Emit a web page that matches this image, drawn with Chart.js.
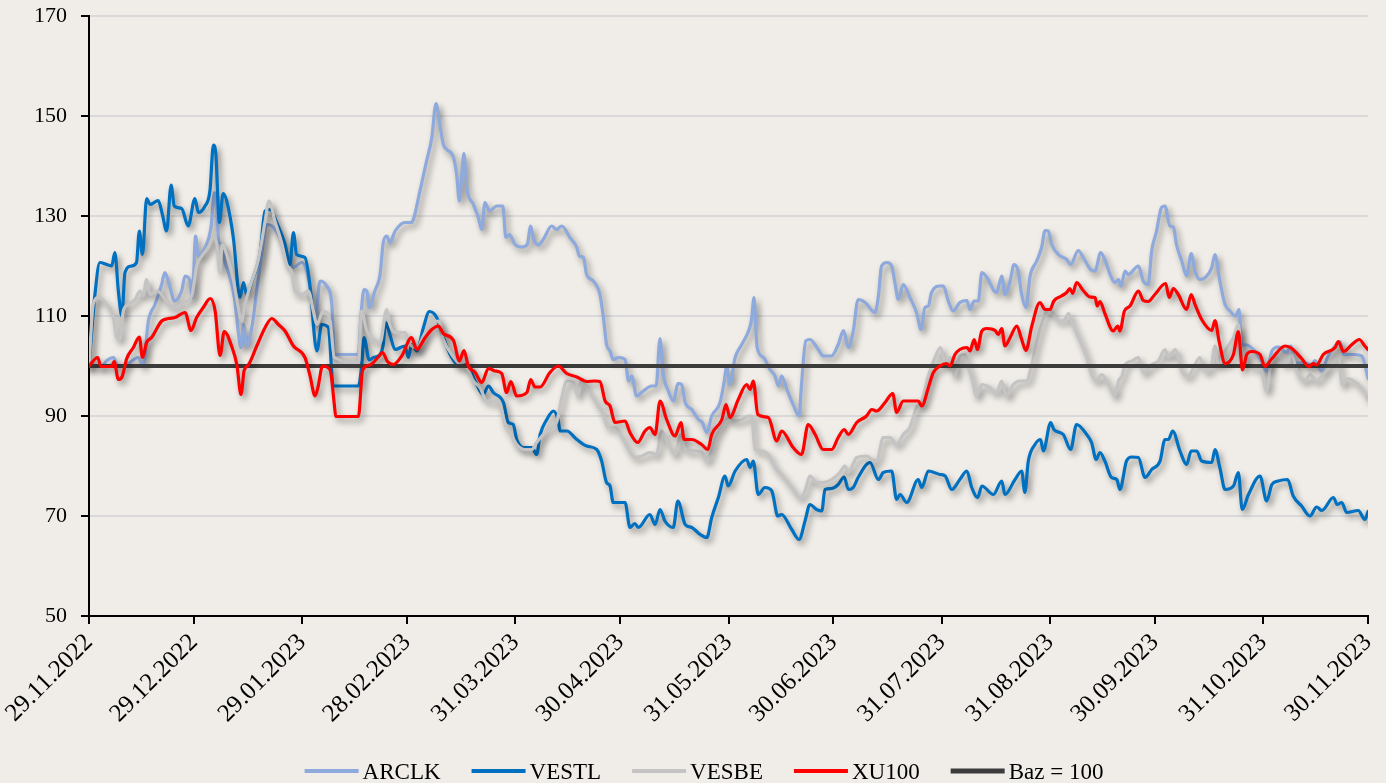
<!DOCTYPE html>
<html>
<head>
<meta charset="utf-8">
<script src="https://cdn.jsdelivr.net/npm/chart.js@4.4.1/dist/chart.umd.min.js"></script>
<style>
html,body{margin:0;padding:0;background:#F0EDE8;}
#wrap{width:1386px;height:783px;position:relative;}
</style>
</head>
<body>
<div id="wrap"><canvas id="c"></canvas></div>
<script>
// ---------- DATA ----------
const seriesNames = ['ARCLK', 'VESTL', 'VESBE', 'XU100', 'Baz = 100'];
// x = days since 29.11.2022
const tickDays   = [0, 30, 61, 91, 122, 152, 183, 213, 244, 275, 305, 336, 366];
const tickLabels = ['29.11.2022','29.12.2022','29.01.2023','28.02.2023','31.03.2023','30.04.2023',
                    '31.05.2023','30.06.2023','31.07.2023','31.08.2023','30.09.2023','31.10.2023','30.11.2023'];
const yMin = 50, yMax = 170, yStep = 20;

const arclk = [[0,100],[1.7,99.9],[3.6,99.9],[5.1,101.1],[7.0,101.7],[8.4,99.9],[11.2,100.5],[14.1,101.7],[15.5,100],[17.0,109],
[18.9,112.3],[20.8,116.3],[21.7,118.7],[23.2,115.7],[24.4,113],[26.5,115],[27.5,118],[28.9,117],[29.6,113.7],[30.5,126],
[31.3,122],[33.2,123.7],[34.9,127.7],[35.9,134.7],[36.5,131.7],[37.2,124.7],[38.1,124.3],[38.7,121.3],[39.9,118.7],[41.6,113.7],
[42.7,107],[43.5,103.7],[44.2,108.3],[45.1,104],[46.6,107.7],[48.0,115],[49.4,122.3],[50.9,128.3],[52.3,128],[54.7,125.7],
[57.0,121.7],[58.5,119.7],[60.9,120.7],[62.3,119],[63.7,113.7],[64.7,108.3],[66.1,117],[68.0,116],[69.5,112.3],[70.2,102.3],
[77.1,102.3],[77.8,109.7],[78.7,115.3],[79.5,115],[80.2,111.7],[81.8,115],[83.3,118.3],[84.2,124.7],[85.2,126],[86.1,124.7],
[87.6,127],[90.4,128.7],[92.3,128.7],[93.0,129.7],[94.7,135],[96.6,141],[98.1,145.7],[99.3,152.5],[100.4,148.3],[101.4,144.3],
[102.4,143.3],[104.3,141.7],[105.2,138.3],[106.0,133],[106.7,138.3],[107.3,142.5],[108.1,135.7],[110.0,132.3],[111.4,129.7],[112.4,127.3],
[113.3,132.7],[114.6,131],[116.7,132],[118.4,132],[119.3,125.7],[120.3,126.3],[121.9,124.3],[123.8,123.8],[125.4,124.3],[126.4,128],
[127.1,125.7],[128.6,124.2],[130.0,125.3],[132.4,128],[133.8,127.3],[135.3,128],[137.6,125.7],[139.6,123.7],[140.3,122],[141.5,121.7],
[142.4,118.3],[144.3,117],[146.2,114.3],[147.2,109.7],[148.1,104.3],[149.1,103],[150.0,101.3],[151.5,101.7],[153.4,101.3],[154.4,97],
[155.3,98],[156.7,94],[158.6,95],[161.0,96],[162.3,96],[163.4,105.5],[164.3,98.5],[165.8,95],[167.2,93],[168.6,96.5],
[169.6,96.3],[170.6,92.7],[172.5,91.3],[174.4,89.3],[175.5,88.7],[176.8,86.7],[178.2,90],[180.6,92.7],[181.8,97],[182.5,100],
[183.4,96.3],[184.9,101.7],[186.8,104.3],[188.9,107.3],[189.6,109.3],[190.3,113.7],[191.2,103.7],[193.0,101.7],[194.9,99.3],[196.3,98],
[197.3,96],[198.2,98],[199.7,95.3],[201.5,92.3],[203.2,90],[203.9,96.3],[205.1,105],[206.3,105.3],[208.7,103.3],[210.1,102],
[212.5,102],[214.4,104.3],[215.9,107.1],[217.3,103.7],[218.7,107],[220.1,113.3],[222.1,112.7],[224.9,110.7],[225.9,114],[226.8,120],
[228.3,120.7],[229.7,120],[230.7,116.3],[231.6,113.3],[233.0,116.3],[234.9,113.7],[236.8,110.7],[238.1,107.3],[239.2,111.7],[240.2,112],
[241.1,114.7],[243.5,116],[244.5,116],[245.9,113],[247.3,111],[249.2,112.7],[251.2,113.1],[252.1,111.3],[253.3,113],[254.5,113],
[255.5,118.7],[257.3,117.3],[259.0,115],[259.7,114.7],[261.2,118],[262.1,114.3],[263.6,117],[264.7,120.3],[265.9,119],[266.9,114.3],
[268.1,111.7],[269.3,118],[271.2,121],[272.6,123.7],[273.6,127.1],[274.5,127],[275.5,124.3],[277.4,122.3],[279.8,121.3],[280.9,120.3],
[283.1,123.1],[284.5,121.7],[286.6,119.3],[287.9,119],[289.5,122.7],[291.0,120.7],[292.2,118.3],[293.6,116.7],[294.6,117.3],[295.3,116],
[296.5,119],[297.4,118.3],[300.3,120],[301.7,117],[303.1,116.3],[304.1,123],[305.5,127],[306.9,131.7],[307.9,132],[309.3,128],
[310.3,127.8],[311.2,124.3],[312.7,121],[314.1,118],[315.4,122.5],[316.5,119],[317.9,117.3],[319.4,117.7],[321.3,119.7],[322.2,122.3],
[323.6,117],[325.1,112.3],[326.5,111],[328.1,110],[329.1,111.3],[329.8,104.3],[331.3,104.2],[333.6,103],[335.5,101],[337.0,99],
[338.5,103],[340.3,103.8],[342.7,102.7],[343.9,104],[345.1,100.5],[347.0,100.7],[349.9,100.3],[350.8,101.1],[352.7,99],[354.6,102],
[356.6,104],[358.0,104.9],[359.0,102.3],[361.8,102.3],[364.2,102],[365.1,100.3],[366,97.5]];

const vestl = [[0,100],[1.7,114.3],[3.1,120.7],[5.1,120.3],[6.5,120],[7.4,122.7],[8.4,115],[9.4,110],[10.3,118.7],[12.2,120],
[13.6,120.7],[14.4,127],[15.3,122.3],[16.5,133.5],[17.5,132.3],[19.8,133.1],[21.0,130.3],[22.2,127],[23.5,136.2],[24.4,132],
[26.5,131.5],[28.4,128],[30.3,133.5],[31.3,130.7],[33.2,132],[34.6,135],[35.6,144.2],[36.3,142.3],[37.3,128.7],[38.4,134.5],
[39.4,133],[41.3,125.7],[43.2,113.7],[44.2,116.7],[45.1,114.3],[47.0,117.7],[48.9,122.3],[50.4,131],[51.8,131.3],[53.7,128.7],
[56.1,124.3],[57.5,120.3],[58.5,126.7],[59.4,122.3],[61.8,121.7],[63.2,116.3],[65.2,103],[66.6,108.3],[68.5,107.7],[69.9,96],
[77.1,96],[78.0,99.9],[78.7,105.7],[80.2,101.2],[81.4,101.7],[83.3,102.3],[84.2,104.3],[84.9,108.7],[86.1,106.3],[87.6,103.3],
[90.4,104],[91.4,101.7],[92.3,104.3],[93.8,103],[95.7,107.7],[97.4,110.9],[99.5,109.7],[101.4,105.7],[103.8,101.7],[106.2,99.9],
[108.1,100.3],[110.5,97],[112.8,94.3],[114.3,96],[115.7,94.7],[118.6,92.7],[120.0,88.7],[121.4,88.3],[122.4,85.3],[124.3,83.7],
[126.7,83.7],[128.1,82.3],[129.1,86.3],[131.0,89.3],[132.9,91],[134.3,89],[134.8,87],[136.7,87],[139.6,85.3],[142.4,84],
[145.3,83.3],[146.7,81],[148.1,76.7],[149.1,76],[150.0,72.7],[153.4,72.7],[154.8,67.7],[156.2,68.5],[157.2,67.7],[160.5,70.3],
[162.0,68.3],[163.4,71.3],[164.8,69],[167.2,67.7],[168.5,73],[170.6,68.3],[172.5,67.7],[174.9,66.3],[176.8,65.7],[178.2,69.7],
[180.1,73.7],[182.0,78],[182.9,76],[184.9,79],[188.2,81.3],[189.2,79.7],[190.1,81],[191.5,74.3],[193.4,75.7],[195.4,75],
[197.1,70],[198.2,70.3],[201.1,67.3],[203.2,65.3],[204.9,69],[206.3,72.3],[208.2,71.3],[209.7,71],[210.6,75.3],[212.5,75.5],
[214.4,76.3],[216.1,77.8],[217.3,75.3],[218.7,75.7],[220.1,77.7],[223.5,80.7],[225.9,77.3],[227.3,78.7],[229.7,79],[231.1,73.3],
[232.1,74.3],[234.0,72.7],[237.3,77.3],[238.3,75.7],[240.2,79],[243.5,78.3],[245.0,78],[246.9,75.3],[249.2,77.3],[251.2,79],
[252.6,75.7],[254.3,73.7],[255.5,76],[258.8,74.3],[261.2,77],[262.1,74.3],[265.0,77.3],[266.9,79],[267.8,74.7],[268.8,81],
[270.7,84.3],[272.3,85.3],[273.1,83],[275.2,88.7],[276.1,87.3],[278.8,86.3],[280.9,83.3],[282.6,88.3],[285.5,86.3],[286.9,84.7],
[288.2,81.3],[289.3,82.7],[290.7,81],[292.6,77.7],[294.1,77.3],[295.0,75.3],[296.9,81],[298.4,81.8],[300.3,81.7],[302.2,77.7],
[304.1,79.3],[306.5,81],[307.9,85.3],[308.9,85.3],[310.1,87],[312.2,83],[314.1,80.3],[315.4,83],[317.0,83],[318.4,81],
[321.3,80.7],[322.2,83.3],[323.6,79.7],[325.1,75.3],[327.5,76],[328.9,78.7],[330.0,71.3],[331.8,74.3],[335.1,78],[337.0,73],
[338.5,76.3],[340.3,77],[343.0,77.3],[344.6,74],[347.0,72],[349.4,70],[351.3,71.8],[352.8,71.1],[356.1,73.7],[357.2,72.3],
[358.5,72.7],[359.9,70.7],[363.2,71.1],[365.1,69.3],[366,70.9]];

const vesbe = [[0,100],[1.2,112.3],[2.7,113.7],[5.1,112.3],[7.0,109.7],[7.9,105.7],[8.9,105.3],[9.8,111],[11.2,112.3],[13.2,113.3],
[14.6,115],[15.5,114],[16.5,117.3],[17.5,114.3],[19.4,115],[20.8,114.3],[22.7,112.3],[25.1,111.7],[27.0,112.7],[29.4,114],
[30.8,120],[32.3,122],[34.1,123.7],[35.6,125.7],[36.5,124.7],[37.5,118.7],[38.1,124.3],[39.4,122.3],[41.3,117.3],[42.7,111.7],
[43.7,109],[44.6,112.3],[46.6,117],[48.4,121],[50.4,129],[51.5,133],[53.2,129],[55.1,124.7],[56.6,120.3],[58.0,118.7],
[58.9,115],[60.9,114.3],[62.8,115],[64.2,111],[65.2,108.3],[67.0,111],[69.0,109],[70.2,101.7],[77.1,100.7],[78.0,111],
[79.5,107],[81.4,105.3],[83.3,104.7],[85.2,111.3],[86.1,108.3],[87.6,106.7],[90.4,106.7],[91.9,104.3],[93.8,103.7],[95.7,106],
[97.6,108.3],[100.0,109],[101.4,105.3],[103.8,102.3],[106.2,100.3],[108.1,99.7],[110.0,97],[111.9,95.7],[113.8,93],[115.7,93],
[117.6,92.3],[119.0,88.3],[120.5,86.7],[122.4,84.3],[124.8,83.3],[126.7,83.3],[128.1,84.7],[130.0,86.3],[132.4,87.7],[133.8,88.7],
[135.3,93.7],[136.7,97],[138.6,96.7],[140.0,94],[140.7,97],[142.4,95.7],[144.3,93.7],[145.7,92],[146.7,91],[148.6,87.7],
[150.5,87.7],[152.4,86],[154.4,83.3],[156.2,81.7],[158.2,82],[160.5,82.7],[162.4,82.3],[163.9,87],[165.8,84.3],[167.7,82.3],
[169.4,86.3],[170.6,83.3],[173.4,83],[175.3,82.7],[176.8,81],[179.2,85.7],[181.1,88.3],[183.0,89.7],[184.9,89],[186.8,89.3],
[188.7,90],[189.6,90],[190.6,83.3],[192.5,83],[194.4,82.3],[196.3,79.7],[198.2,78.3],[201.1,75.7],[203.5,73.7],[204.9,75],
[206.3,78],[208.2,76.7],[210.1,76.7],[212.5,77.3],[214.9,78.7],[216.3,80],[217.3,78.7],[219.7,81.7],[222.5,82],[224.0,81.3],
[225.4,81],[227.3,85.7],[229.2,85.7],[231.1,84.3],[233.0,86.3],[234.9,87.7],[236.8,91.7],[238.3,93],[240.2,98],[242.1,101.7],
[243.7,103.7],[245.0,100.3],[246.4,101.7],[247.8,98],[249.2,102],[250.7,102.3],[251.6,99.7],[252.6,97.7],[254.0,94],[255.5,96.3],
[257.8,95.7],[259.7,94.7],[261.2,97],[262.6,94],[264.5,96.3],[266.4,97],[268.3,97],[269.8,100.3],[271.2,104.7],[272.6,108.3],
[274.1,111],[275.0,111.3],[276.9,109.3],[278.8,109],[280.3,110.5],[281.5,108.3],[283.6,105],[285.5,101.7],[286.9,98.3],[288.4,97],
[289.8,98.3],[292.2,95.7],[293.6,94],[294.6,97],[295.6,98],[296.5,100.3],[298.4,101],[300.3,101.7],[301.7,98.7],[304.1,100.3],
[306.0,101],[307.9,103.3],[308.9,101.7],[310.8,103.3],[312.7,99],[314.6,98],[316.5,100.3],[317.9,101.7],[319.4,99],[321.1,99.7],
[322.2,104],[323.2,100],[324.6,102.3],[326.0,104],[327.5,105.7],[328.9,108.3],[329.8,103],[331.3,101.7],[333.2,99.7],[335.1,99.7],
[337.0,95],[338.5,101.7],[340.3,102.3],[342.3,100.3],[344.2,102.3],[345.6,99],[348.0,97],[349.4,98.3],[351.3,97],[353.2,98.3],
[355.6,100.3],[357.5,102.3],[358.6,96.3],[360.3,97.5],[363.2,96.3],[365.1,94.7],[366,93.3]];

const xu100 = [[0,100],[2.5,101.7],[3.4,99.9],[6.5,99.9],[7.2,100.9],[8.4,97.3],[9.5,97.9],[10.8,101.5],[12.7,103.7],[14.4,105.8],
[15.3,101.7],[16.5,104.7],[17.9,105.7],[20.8,109],[22.7,109.5],[24.6,109.7],[27.5,110.7],[29.2,107.1],[30.8,109.7],[32.7,111.7],
[34.7,113.5],[36.1,111],[37.5,102.1],[38.7,106.9],[40.8,104],[42.3,100.3],[43.5,94.3],[44.4,99.1],[45.6,100.2],[48.0,104],
[50.4,107.7],[52.3,109.5],[54.2,108.3],[56.1,107],[58.5,104],[61.8,101.7],[63.2,98.2],[64.7,94],[65.6,96],[66.8,100],
[69.0,99.2],[70.2,92.3],[70.6,89.9],[77.1,89.9],[78.3,99.2],[80.4,100.2],[82.8,101.8],[84.0,102.7],[85.4,100.9],[87.1,100.3],
[89.5,102],[92.3,105.7],[93.8,103.3],[96.2,105.7],[97.8,107.1],[100.0,108],[101.4,106.5],[104.3,105.1],[106.0,101],[107.3,103.1],
[108.5,100.1],[110.5,98.7],[112.4,96.7],[114.3,99.5],[116.2,99],[118.1,98.5],[119.5,94.7],[120.7,96.9],[122.4,94],[125.3,94.7],
[126.4,97.3],[127.6,95.8],[129.1,95.8],[131.9,98.7],[134.3,100],[136.7,98.5],[139.6,97.8],[142.4,96.9],[144.8,97],[146.2,96.9],
[147.7,93],[149.1,92],[150.5,88.7],[153.4,89],[154.8,86.7],[157.0,84.7],[159.1,87],[160.5,87.7],[162.0,86.3],[163.4,93],
[165.3,89.3],[167.7,86],[169.4,88.7],[170.3,85.3],[172.5,85.3],[175.3,84.3],[177.1,83.3],[178.2,86.3],[181.1,89.3],[182.3,92.3],
[183.4,89.7],[185.8,93.3],[188.2,96.3],[189.2,95.3],[190.1,97],[191.4,90.3],[194.4,89.7],[196.8,85],[198.2,87],[201.5,83.7],
[203.9,82.3],[205.8,88.3],[207.8,86.3],[210.1,83.3],[212.5,83.3],[214.4,85.7],[216.1,87.3],[217.3,86.3],[219.7,88.7],[222.5,90],
[224.0,91.3],[225.4,91],[227.8,92.7],[230.0,94.5],[231.1,90.7],[233.0,93],[237.3,93],[238.3,92],[240.2,95.7],[241.6,98.7],
[243.5,100],[245.4,100.5],[246.4,100],[247.8,102.3],[249.2,103.3],[251.3,103.7],[252.1,103],[253.3,105.3],[254.2,103.3],[255.5,107],
[256.9,107.5],[259.3,107.1],[260.2,106.3],[261.2,107.5],[262.1,104],[263.6,105.7],[265.5,108],[266.9,105.3],[268.1,103.1],[269.8,108],
[272.1,112.7],[273.6,111.3],[275.0,111.3],[276.1,113],[278.3,114],[279.8,114.7],[280.7,115.5],[281.5,114.5],[282.6,116.7],[284.5,115.1],
[286.5,113.8],[287.9,113.7],[288.5,112],[289.3,112.9],[290.7,110.5],[293.1,107],[294.4,108],[295.0,107],[296.3,111],[297.9,112],
[300.3,115],[301.7,113.1],[303.1,112.9],[305.0,114.3],[308.1,116.5],[309.1,113.7],[310.3,115.5],[311.7,114.3],[314.1,111.3],[315.4,114.3],
[316.5,112.3],[318.4,109.3],[321.3,107.1],[322.2,109.1],[323.4,104.9],[325.1,100.5],[327.5,102.3],[328.9,106.9],[330.1,99.2],[331.3,102.3],
[332.7,102.9],[335.1,102.3],[336.5,99.9],[338.5,101.5],[342.3,104],[344.2,103.5],[347.0,101.5],[349.1,99.9],[350.4,100.5],[351.3,100.2],
[353.2,102.3],[356.6,103.7],[357.5,104.9],[359.0,102.9],[361.4,104.3],[363.5,105.3],[365.1,104],[366,103.3]];

const baz = [[0,100],[366,100]];

// ---------- STYLE ----------
const FONT = "'Liberation Serif', 'Times New Roman', serif";
const BG = '#F0EDE8';
const toXY = arr => arr.map(p => ({x: p[0], y: p[1]}));

const common = {pointRadius: 0, pointHoverRadius: 0, fill: false, cubicInterpolationMode: 'monotone', borderJoinStyle: 'round', borderCapStyle: 'round'};
const datasets = [
  Object.assign({label: seriesNames[0], data: toXY(arclk), borderColor: '#8EA9DB', borderWidth: 3.2, order: 5}, common),
  Object.assign({label: seriesNames[1], data: toXY(vestl), borderColor: '#0070C0', borderWidth: 3.2, order: 4}, common),
  Object.assign({label: seriesNames[2], data: toXY(vesbe), borderColor: '#C4C4C4', borderWidth: 3.2, order: 3}, common),
  Object.assign({label: seriesNames[3], data: toXY(xu100), borderColor: '#FF0000', borderWidth: 3.2, order: 1}, common),
  Object.assign({label: seriesNames[4], data: toXY(baz), borderColor: '#3C3C3C', borderWidth: 4, order: 2, shadow: false}, common)
];

const bgPlugin = {
  id: 'bg',
  beforeDraw(chart) {
    const {ctx, width, height} = chart;
    ctx.save(); ctx.fillStyle = BG; ctx.fillRect(0, 0, width, height); ctx.restore();
  }
};
const shadowPlugin = {
  id: 'shadow',
  beforeDatasetDraw(chart, args) {
    const ctx = chart.ctx;
    ctx.save();
    if (chart.data.datasets[args.index].shadow !== false) {
      ctx.shadowColor = 'rgba(0,0,0,0.42)';
      ctx.shadowBlur = 6;
      ctx.shadowOffsetX = 3;
      ctx.shadowOffsetY = 4;
    }
  },
  afterDatasetDraw(chart) { chart.ctx.restore(); }
};
const legendPlugin = {
  id: 'customLegend',
  afterDraw(chart) {
    const ctx = chart.ctx;
    const ds = chart.data.datasets;
    ctx.save();
    ctx.font = '23px ' + FONT;
    const lineW = 54, gap = 4, spacing = 31, centerX = 704, yLine = 771, yText = 779;
    const widths = ds.map(d => lineW + gap + ctx.measureText(d.label).width);
    const total = widths.reduce((a, b) => a + b, 0) + spacing * (ds.length - 1);
    let x = centerX - total / 2;
    ds.forEach((d, i) => {
      const h = d.borderWidth >= 4 ? 5 : 4;
      ctx.fillStyle = d.borderColor;
      ctx.fillRect(x, yLine - h / 2, lineW, h);
      ctx.fillStyle = '#000';
      ctx.textBaseline = 'alphabetic';
      ctx.textAlign = 'left';
      ctx.fillText(d.label, x + lineW + gap, yText);
      x += widths[i] + spacing;
    });
    ctx.restore();
  }
};

new Chart(document.getElementById('c'), {
  type: 'line',
  data: {datasets},
  options: {
    responsive: true,
    maintainAspectRatio: false,
    animation: false,
    layout: {padding: {left: 0, right: 18, top: 16, bottom: 37}},
    plugins: {legend: {display: false}, tooltip: {enabled: false}},
    scales: {
      x: {
        type: 'linear',
        min: tickDays[0],
        max: tickDays[tickDays.length - 1],
        afterBuildTicks(scale) { scale.ticks = tickDays.map(v => ({value: v})); },
        afterFit(scale) { scale.height = 130; scale.paddingLeft = 0; scale.paddingRight = 0; },
        ticks: {
          autoSkip: false, minRotation: 45, maxRotation: 45, padding: 4,
          color: '#000', font: {family: FONT, size: 25},
          callback: v => tickLabels[tickDays.indexOf(v)]
        },
        grid: {drawOnChartArea: false, color: '#000', tickColor: '#000', tickLength: 8, lineWidth: 2},
        border: {display: true, color: '#000', width: 2}
      },
      y: {
        min: yMin, max: yMax,
        afterFit(scale) { scale.width = 89; scale.paddingTop = 0; scale.paddingBottom = 0; },
        ticks: {stepSize: yStep, padding: 14, color: '#000', font: {family: FONT, size: 22}},
        grid: {color: '#D9D9D9', lineWidth: 2, tickColor: '#000', tickLength: 8},
        border: {display: true, color: '#000', width: 2}
      }
    }
  },
  plugins: [bgPlugin, shadowPlugin, legendPlugin]
});
</script>
</body>
</html>
